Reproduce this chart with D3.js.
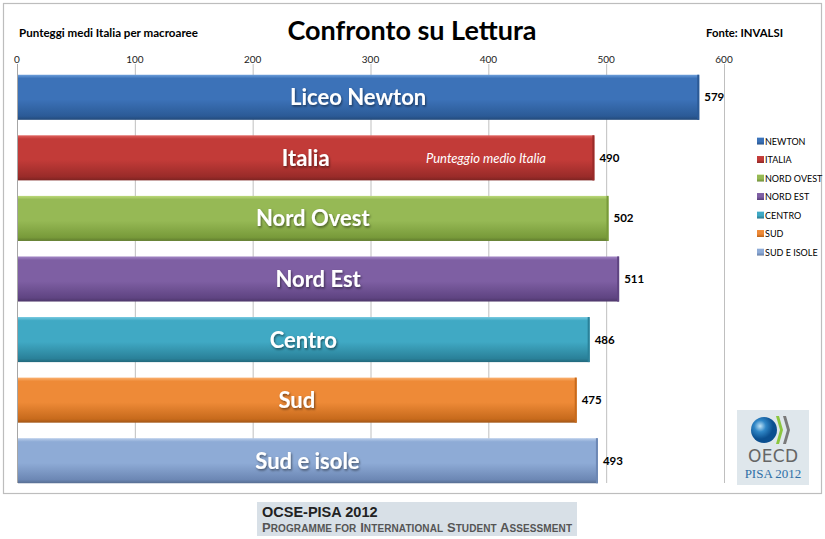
<!DOCTYPE html>
<html lang="it">
<head>
<meta charset="UTF-8">
<title>Confronto su Lettura</title>
<script src="https://d3js.org/d3.v7.min.js"></script>
<style>
  body { margin: 0; background: #fff; }
  svg { display: block; font-family: Lato, "Open Sans", sans-serif; }
</style>
</head>
<body>
<div id="chart"></div>
<script>
// dati
const categories = ["Liceo Newton", "Italia", "Nord Ovest", "Nord Est", "Centro", "Sud", "Sud e isole"];
const legendNames = ["NEWTON", "ITALIA", "NORD OVEST", "NORD EST", "CENTRO", "SUD", "SUD E ISOLE"];
const scores = [579, 490, 502, 511, 486, 475, 493];
const ticks = [0, 100, 200, 300, 400, 500, 600];

// colori (chiaro, base, scuro)
const palette = [
  ["#6d9fdb", "#3c72b8", "#2b5a96"],
  ["#e0625f", "#c23b38", "#992b29"],
  ["#bcd97a", "#96b955", "#789a3a"],
  ["#a488c6", "#7e5fa3", "#5f4482"],
  ["#74c8df", "#40a9c4", "#2a8199"],
  ["#fbb272", "#ee8a37", "#c76a1c"],
  ["#b9cdea", "#8eabd6", "#6c87b4"]
];

const W = 825, H = 539;
const svg = d3.select("#chart").append("svg").attr("width", W).attr("height", H);
const defs = svg.append("defs");

palette.forEach((c, i) => {
  const g = defs.append("linearGradient").attr("id", "grad" + i)
    .attr("x1", 0).attr("y1", 0).attr("x2", 0).attr("y2", 1);
  g.append("stop").attr("offset", "0%").attr("stop-color", c[0]);
  g.append("stop").attr("offset", "8%").attr("stop-color", c[1]);
  g.append("stop").attr("offset", "55%").attr("stop-color", c[1]);
  g.append("stop").attr("offset", "92%").attr("stop-color", c[2]);
  g.append("stop").attr("offset", "100%").attr("stop-color", d3.color(c[2]).darker(0.6));
});

const shadow = defs.append("filter").attr("id", "txtShadow")
  .attr("x", "-10%").attr("y", "-20%").attr("width", "120%").attr("height", "150%");
shadow.append("feDropShadow").attr("dx", 1).attr("dy", 1.5).attr("stdDeviation", 1)
  .attr("flood-color", "#000").attr("flood-opacity", 0.5);

// cornice esterna
svg.append("rect").attr("x", 3.5).attr("y", 3.5).attr("width", 818).attr("height", 490)
  .attr("fill", "#fff").attr("stroke", "#bdbdbd").attr("stroke-width", 1.2);

// scale
const x = d3.scaleLinear().domain([0, 600]).range([17, 724]);
const y = d3.scaleBand().domain(categories).range([67, 491]).paddingInner(0.256).paddingOuter(0.128);
const plotTop = 68, plotBottom = 483;

// griglia verticale
svg.append("g").selectAll("line").data(ticks).join("line")
  .attr("x1", d => x(d) + 0.5).attr("x2", d => x(d) + 0.5)
  .attr("y1", plotTop - 4).attr("y2", plotBottom)
  .attr("stroke", d => d === 0 ? "#a6a6a6" : "#bfbfbf").attr("stroke-width", 1);

// etichette asse in alto
svg.append("g").selectAll("text").data(ticks).join("text")
  .attr("x", d => x(d)).attr("y", 63)
  .attr("text-anchor", "middle").attr("font-size", 10).attr("fill", "#222")
  .text(d => d);

// barre
const bars = svg.append("g").selectAll("g").data(categories).join("g");
bars.append("rect")
  .attr("x", x(0) + 1).attr("y", d => y(d))
  .attr("width", (d, i) => x(scores[i]) - x(0) - 1).attr("height", y.bandwidth())
  .attr("fill", (d, i) => "url(#grad" + i + ")");
// bordo destro scuro
bars.append("rect")
  .attr("x", (d, i) => x(scores[i]) - 2).attr("y", d => y(d))
  .attr("width", 2).attr("height", y.bandwidth())
  .attr("fill", (d, i) => palette[i][2]);

// nomi dentro le barre
bars.append("text")
  .attr("x", (d, i) => (x(0) + x(scores[i])) / 2)
  .attr("y", d => y(d) + y.bandwidth() / 2 + 8)
  .attr("text-anchor", "middle").attr("font-size", 22).attr("font-weight", "bold")
  .attr("fill", "#fff").attr("filter", "url(#txtShadow)")
  .text(d => d);

// valori
bars.append("text")
  .attr("x", (d, i) => x(scores[i]) + 5)
  .attr("y", d => y(d) + y.bandwidth() / 2 + 4)
  .attr("font-size", 11.5).attr("font-weight", "bold").attr("fill", "#000")
  .text((d, i) => scores[i]);

// nota su Italia
svg.append("text")
  .attr("x", x(398)).attr("y", y("Italia") + y.bandwidth() / 2 + 5)
  .attr("text-anchor", "middle").attr("font-size", 13).attr("font-style", "italic")
  .attr("fill", "#fff").text("Punteggio medio Italia");

// titoli
svg.append("text").attr("x", 412).attr("y", 40).attr("text-anchor", "middle")
  .attr("font-size", 27).attr("font-weight", "bold").attr("fill", "#000")
  .text("Confronto su Lettura");
svg.append("text").attr("x", 19).attr("y", 37)
  .attr("font-size", 11.6).attr("font-weight", "bold").attr("fill", "#000")
  .text("Punteggi medi Italia per macroaree");
svg.append("text").attr("x", 706).attr("y", 37)
  .attr("font-size", 11.3).attr("font-weight", "bold").attr("fill", "#000")
  .text("Fonte: INVALSI");

// legenda
const legend = svg.append("g").selectAll("g").data(legendNames).join("g")
  .attr("transform", (d, i) => "translate(757," + (141 + i * 18.5) + ")");
legend.append("rect").attr("x", 0).attr("y", -3.5).attr("width", 7).attr("height", 7)
  .attr("fill", (d, i) => "url(#grad" + i + ")");
legend.append("text").attr("x", 8).attr("y", 3.5)
  .attr("font-size", 9).attr("fill", "#000").text(d => d);

// logo OECD PISA
const logo = svg.append("g").attr("transform", "translate(737,410)");
logo.append("rect").attr("width", 72).attr("height", 75).attr("fill", "#dfe7ec");
const globe = defs.append("radialGradient").attr("id", "globe").attr("cx", "35%").attr("cy", "35%");
globe.append("stop").attr("offset", "0%").attr("stop-color", "#bfe3f7");
globe.append("stop").attr("offset", "45%").attr("stop-color", "#2f86c6");
globe.append("stop").attr("offset", "100%").attr("stop-color", "#0b4f8f");
logo.append("circle").attr("cx", 27).attr("cy", 20).attr("r", 13).attr("fill", "url(#globe)");
[["#8cc63f", 42], ["#7a7a7a", 49]].forEach(([c, cx]) => {
  logo.append("path")
    .attr("d", `M${cx - 3},6 L${cx + 1},20 L${cx - 3},34 L${cx},34 L${cx + 4},20 L${cx},6 Z`)
    .attr("fill", c);
});
logo.append("text").attr("x", 36).attr("y", 52).attr("text-anchor", "middle")
  .attr("font-family", "'DejaVu Sans', sans-serif").attr("font-size", 17).attr("fill", "#666")
  .attr("textLength", 50).text("OECD");
logo.append("text").attr("x", 36).attr("y", 68).attr("text-anchor", "middle")
  .attr("font-family", "'Liberation Serif', serif").attr("font-size", 13).attr("fill", "#2f6fa6")
  .text("PISA 2012");

// banner in basso
const banner = svg.append("g").attr("transform", "translate(257,502)");
banner.append("rect").attr("width", 320).attr("height", 34).attr("fill", "#d8e0e7");
banner.append("text").attr("x", 5).attr("y", 15)
  .attr("font-family", "'Liberation Sans', Arial, sans-serif").attr("font-size", 14.5)
  .attr("font-weight", "bold").attr("fill", "#222").text("OCSE-PISA 2012");
const sc = banner.append("text").attr("x", 5).attr("y", 30)
  .attr("font-family", "'Liberation Sans', Arial, sans-serif").attr("font-weight", "bold")
  .attr("fill", "#555").attr("textLength", 310).attr("lengthAdjust", "spacing");
["Programme", "for", "International", "Student", "Assessment"].forEach((w, i) => {
  const cap = w[0] === w[0].toUpperCase();
  sc.append("tspan").attr("font-size", cap ? 13 : 10).text((i ? " " : "") + (cap ? w[0] : w[0].toUpperCase()));
  sc.append("tspan").attr("font-size", 10).text(w.slice(1).toUpperCase());
});
</script>
</body>
</html>
